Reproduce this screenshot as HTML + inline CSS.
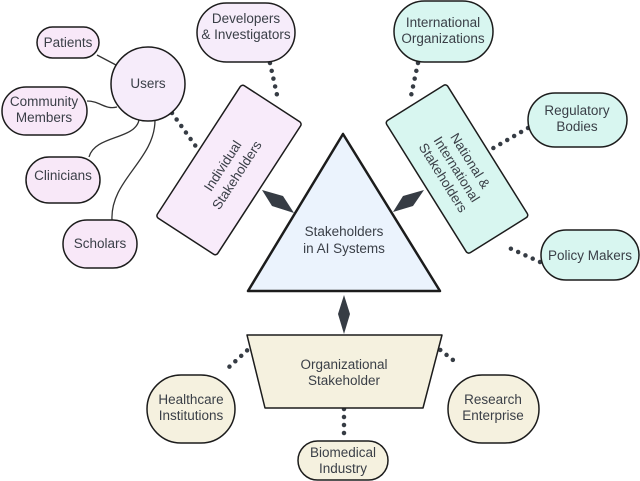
<!DOCTYPE html>
<html><head><style>
html,body{margin:0;padding:0;background:#fff;}
svg{display:block;}
text{font-family:"Liberation Sans",sans-serif;font-size:13.5px;fill:#3a3f47;text-anchor:middle;}
</style></head><body>
<svg width="640" height="481" viewBox="0 0 640 481">
<g fill="none" stroke="#333" stroke-width="1.3">
<path d="M97,55 L116,65"/>
<path d="M87,101 C100,101 105,110 117,107"/>
<path d="M89,157 C95,135 135,140 139,120"/>
<path d="M112,220 C110,180 155,160 155,120"/>
</g>
<g stroke="#363c44" stroke-width="4.5" stroke-linecap="round" stroke-dasharray="0 8" fill="none">
<path d="M172,113 L197,148"/>
<path d="M270,63 L277,95"/>
<path d="M418,63 L411,96"/>
<path d="M528,128 L490,150"/>
<path d="M540,262 L505,246"/>
<path d="M253,345 L228,368"/>
<path d="M434,345 L453,360"/>
<path d="M344,409 L344,441"/>
</g>
<polygon points="343,134 248,291 440,291" fill="#ebf3fd" stroke="#1c1c1c" stroke-width="2.5" stroke-linejoin="round"/>
<text x="344" y="236">Stakeholders</text><text x="344" y="253">in AI Systems</text>
<g transform="translate(229,170) rotate(-57)">
<rect x="-79" y="-36" width="158" height="72" rx="3" fill="#f8ebfa" stroke="#1c1c1c" stroke-width="1.5"/>
<text x="0" y="-3">Individual</text><text x="0" y="14">Stakeholders</text>
</g>
<g transform="translate(457,169) rotate(58)">
<rect x="-78" y="-36" width="156" height="72" rx="3" fill="#d8f6f0" stroke="#1c1c1c" stroke-width="1.5"/>
<text x="0" y="-11">National &amp;</text><text x="0" y="5">International</text><text x="0" y="21">Stakeholders</text>
</g>
<polygon points="247,335 442,335 423,408 265,408" fill="#f5f1df" stroke="#1c1c1c" stroke-width="1.5" stroke-linejoin="round"/>
<text x="344" y="369">Organizational</text><text x="344" y="385">Stakeholder</text>
<g fill="#363c44">
<polygon points="262,190 283,196 294,213 272,206"/>
<polygon points="424,190 403,196 393,212 413,206"/>
<polygon points="344,295 350,314 344,334 338,314"/>
</g>
<g stroke="#1c1c1c" stroke-width="1.5">
<rect x="37" y="27" width="62" height="31" rx="15.5" fill="#f8e8f8"/>
<circle cx="148" cy="84" r="37" fill="#f6ecfa"/>
<rect x="2" y="87" width="85" height="48" rx="24" fill="#f8e8f8"/>
<rect x="26" y="157" width="74" height="46" rx="23" fill="#f8e8f8"/>
<rect x="63" y="220" width="74" height="48" rx="24" fill="#f8e8f8"/>
<rect x="197" y="3" width="98" height="59" rx="29.5" fill="#f6ecfa"/>
<rect x="394" y="1" width="99" height="61" rx="30.5" fill="#d8f6f0"/>
<rect x="528" y="93" width="99" height="54" rx="27" fill="#d8f6f0"/>
<rect x="541" y="230" width="98" height="50" rx="25" fill="#d8f6f0"/>
<rect x="147" y="375" width="88" height="68" rx="34" fill="#f5f1df"/>
<rect x="298" y="441" width="90" height="39" rx="19.5" fill="#f5f1df"/>
<rect x="448" y="375" width="91" height="68" rx="34" fill="#f5f1df"/>
</g>
<text x="68" y="47">Patients</text>
<text x="148" y="88">Users</text>
<text x="44" y="106">Community</text><text x="44" y="122">Members</text>
<text x="63" y="180">Clinicians</text>
<text x="100" y="248">Scholars</text>
<text x="246" y="23">Developers</text><text x="246" y="39">&amp; Investigators</text>
<text x="443" y="27">International</text><text x="443" y="43">Organizations</text>
<text x="577" y="115">Regulatory</text><text x="577" y="131">Bodies</text>
<text x="590" y="260">Policy Makers</text>
<text x="191" y="404">Healthcare</text><text x="191" y="420">Institutions</text>
<text x="343" y="457">Biomedical</text><text x="343" y="473">Industry</text>
<text x="493" y="404">Research</text><text x="493" y="420">Enterprise</text>
</svg>
</body></html>
